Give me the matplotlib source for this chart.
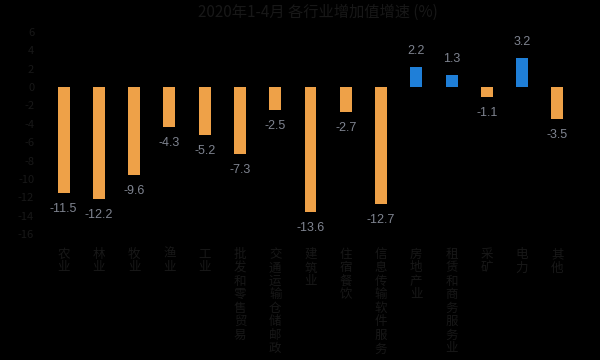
import matplotlib
matplotlib.use("Agg")
import matplotlib.pyplot as plt
import numpy as np

plt.rcParams['font.family'] = ['Noto Sans CJK SC', 'DejaVu Sans']

# ==========================================
# DATA
# ==========================================

title = "2020年1-4月 各行业增加值增速 (%)"

categories = [
    "农业", "林业", "牧业", "渔业", "工业",
    "批发和零售贸易", "交通运输仓储邮政", "建筑业", "住宿餐饮", "信息传输软件服务",
    "房地产业", "租赁和商务服务业", "采矿", "电力", "其他",
]

values = [-11.5, -12.2, -9.6, -4.3, -5.2, -7.3, -2.5, -13.6, -2.7, -12.7,
          2.2, 1.3, -1.1, 3.2, -3.5]

y_ticks = [6, 4, 2, 0, -2, -4, -6, -8, -10, -12, -14, -16]

ORANGE = "#eea148"
BLUE = "#1f7fd8"
LABEL = "#7f8490"
DIM = "#181818"

# ==========================================
# PLOT
# ==========================================

fig = plt.figure(figsize=(6, 3.6), dpi=100, facecolor="black")
ax = fig.add_axes([0.065, 0.35, 0.905, 0.561])
ax.set_facecolor("black")

x = np.arange(len(values))
colors = [BLUE if v > 0 else ORANGE for v in values]
ax.bar(x, values, width=0.34, color=colors)

for xi, v in zip(x, values):
    if v > 0:
        ax.text(xi, v + 1.1, f"{v:.1f}", ha="center", va="bottom",
                fontsize=9, color=LABEL, family="Liberation Sans")
    else:
        ax.text(xi, v - 1.1, f"{v:.1f}", ha="center", va="top",
                fontsize=9, color=LABEL, family="Liberation Sans")

ax.set_xlim(-0.7, len(values) - 0.3)
ax.set_ylim(-16, 6)
ax.set_yticks(y_ticks)
ax.set_yticklabels([str(t) for t in y_ticks], fontsize=8, color=DIM)
ax.set_xticks(x)
ax.set_xticklabels(["\n".join(c) for c in categories], fontsize=9,
                   color=DIM, linespacing=1.05, va="top")
ax.tick_params(axis="both", length=0)
ax.tick_params(axis="x", pad=10)

for s in ax.spines.values():
    s.set_visible(False)

fig.text(0.53, 0.965, title, ha="center", va="center", fontsize=11, color=DIM)

fig.savefig("out.png", dpi=100, facecolor="black")
